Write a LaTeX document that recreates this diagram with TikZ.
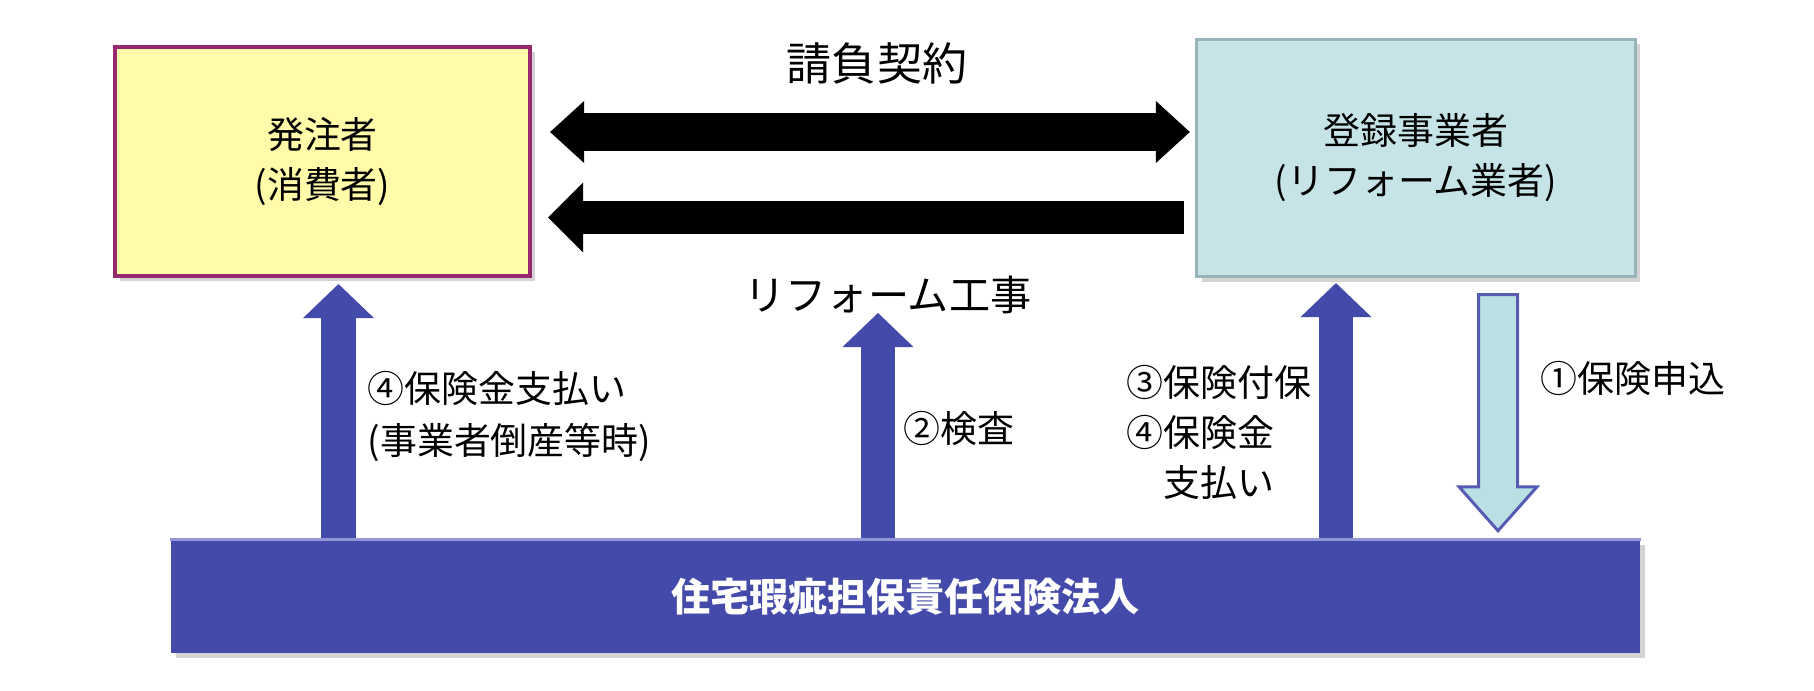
\documentclass[tikz,border=0pt]{standalone}
\usepackage{fontspec}
\setmainfont{Noto Sans CJK JP}
\usepackage{tikz}
\usetikzlibrary{positioning,
                arrows.meta,                % arrow tips
                calc,                       % shifted end points
                shadows}                    % box shadows

\definecolor{ownerfill}{RGB}{255,251,168}
\definecolor{ownerline}{RGB}{150,40,110}
\definecolor{firmfill}{RGB}{198,228,231}
\definecolor{firmline}{RGB}{152,180,184}
\definecolor{insblue}{RGB}{68,74,170}
\definecolor{insedge}{RGB}{145,150,214}
\definecolor{applyfill}{RGB}{186,224,228}

\tikzset{
  party/.style={draw, align=center, inner sep=0pt,
                font=\fontsize{10.5}{14.2}\selectfont,
                drop shadow={shadow xshift=0.05cm, shadow yshift=-0.05cm, opacity=0.35}},
  label/.style={inner sep=0pt, align=left, font=\fontsize{10.5}{14.8}\selectfont},
  bigtip/.style={Triangle[length=0.34cm, width=0.64cm, line width=0pt]},
  contract/.style={line width=0.38cm, {Triangle[length=0.34cm, width=0.62cm, line width=0pt]}-{Triangle[length=0.34cm, width=0.62cm, line width=0pt]}},
  handover/.style={line width=0.33cm, -{Triangle[length=0.35cm, width=0.70cm, line width=0pt]}},
  uparrow/.style={insblue, line width=0.34cm, -{Triangle[length=0.34cm, width=0.71cm, line width=0pt]}},
  applyarrow/.style={draw=insblue!90, fill=applyfill, line width=0.03cm, line join=miter}
}

\begin{document}
\begin{tikzpicture}[x=0.01cm, y=-0.01cm]
    \useasboundingbox (0,0) rectangle (1814,690);

    % parties
    \node[party, fill=ownerfill, draw=ownerline, line width=0.04cm,
          minimum width=4.15cm, minimum height=2.29cm] (owner) at (322.5,161.5)
          {発注者\\(消費者)};
    \node[party, fill=firmfill, draw=firmline, line width=0.03cm,
          minimum width=4.38cm, minimum height=2.37cm] (builder) at (1416,158)
          {登録事業者\\(リフォーム業者)};

    % contract and works
    \node[font=\fontsize{12.8}{15}\selectfont] (deal) at (877,63) {請負契約};
    \node[font=\fontsize{11.7}{14}\selectfont] (work) at (888,295) {リフォーム工事};

    \coordinate (dealL) at ($(owner.east)+(18,-29.5)$);
    \coordinate (workL) at ($(owner.east)+(16,56)$);
    \draw[contract] (dealL) -- ($(dealL -| builder.west)+(-5.5,0)$);
    \draw[handover] ($(workL -| builder.west)+(-11.5,0)$) -- (workL);

    % insurer
    \coordinate (payL) at ($(owner.south)+(16,6)$);
    \coordinate (insp) at (878,313);
    \coordinate (payR) at ($(builder.south)+(-80,5)$);
    \draw[uparrow] (payL |- 0,542) -- (payL);
    \draw[uparrow] (insp |- 0,542) -- (insp);
    \draw[uparrow] (payR |- 0,542) -- (payR);

    \node[fill=insblue, minimum width=14.69cm, minimum height=1.13cm,
          text=white, font=\fontsize{11.1}{13}\selectfont\bfseries,
          drop shadow={shadow xshift=0.05cm, shadow yshift=-0.05cm, opacity=0.35}]
          (insurer) at (905.5,596.5) {住宅瑕疵担保責任保険法人};
    \draw[insedge, line width=0.03cm] (insurer.north west) -- (insurer.north east);

    % application
    \coordinate (apTop) at ($(builder.south)+(82,16.5)$);
    \coordinate (apTip) at ($(insurer.north -| apTop)+(0,-8.5)$);
    \draw[applyarrow] ($(apTop)+(-19.5,0)$) -- ($(apTip)+(-19.5,-44)$) -- ($(apTip)+(-39,-44)$)
          -- (apTip) -- ($(apTip)+(39,-44)$) -- ($(apTip)+(19.5,-44)$) -- ($(apTop)+(19.5,0)$) -- cycle;

    % steps
    \node[label, anchor=west] (payNote) at (367,416.5) {④保険金支払い\\(事業者倒産等時)};
    \node[label, anchor=west] (checkNote) at (903,428) {②検査};
    \node[label, anchor=west, font=\fontsize{10.5}{14.2}\selectfont] (coverNote) at (1126,432.5)
          {③保険付保\\④保険金\\　支払い};
    \node[label, anchor=west] (applyNote) at (1540,378) {①保険申込};
\end{tikzpicture}
\end{document}
